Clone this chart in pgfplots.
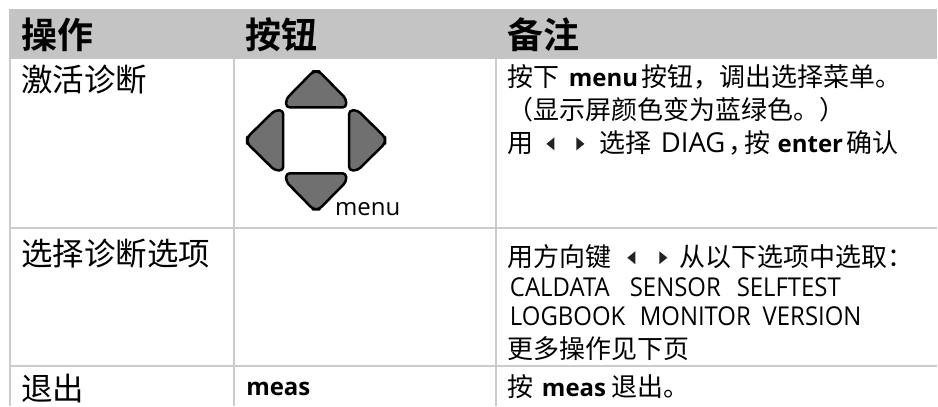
\documentclass[border=0pt]{standalone}
\usepackage{pgfplots}
\pgfplotsset{compat=1.18}
\usepackage{fontspec}
\setmainfont{Open Sans}
\newfontfamily\oc[FakeStretch=0.92]{Open Sans}
\newfontfamily\cjk[BoldFont={Noto Sans CJK SC Bold}]{Noto Sans CJK SC}
\definecolor{hd}{HTML}{C4C4C4}
\definecolor{rl}{HTML}{CBCBCB}
\definecolor{ar}{HTML}{707070}
\definecolor{tx}{HTML}{222222}
\newcommand{\at}[4]{\node[anchor=base west, font=#3] at (axis cs:#1,#2) {#4};}
\newcommand{\hh}{\fontsize{36}{36}\selectfont\cjk\bfseries}
\newcommand{\cc}{\fontsize{31.5}{31.5}\selectfont\cjk}
\newcommand{\bz}{\fontsize{26}{26}\selectfont\cjk}
\newcommand{\bl}{\fontsize{24}{24}\selectfont\bfseries}
\newcommand{\la}{\fontsize{26}{26}\selectfont\oc}
\begin{document}
\begin{tikzpicture}
\begin{axis}[
  scale only axis, width=938pt, height=406pt,
  xmin=0, xmax=938, ymin=0, ymax=406, y dir=reverse,
  hide axis, clip=false,
  every node/.append style={text=tx, inner sep=0pt, outer sep=0pt},
  key/.style={fill=ar, draw=black, line width=2.5pt, rounded corners=3.5pt, line join=round},
  tri/.style={fill=tx, draw=none},
]
% header band
\addplot[fill=hd, draw=none] coordinates {(9,9) (938,9) (938,59) (9,59)} --cycle;
% rules
\addplot[rl, line width=2pt] coordinates {(10,59) (10,406)};
\addplot[rl, line width=2pt] coordinates {(234,59) (234,406)};
\addplot[rl, line width=2pt] coordinates {(497,59) (497,406)};
\addplot[rl, line width=2pt] coordinates {(10,228) (938,228)};
\addplot[rl, line width=2pt] coordinates {(10,366) (938,366)};
% arrow keys
\addplot[key] coordinates {(316.5,71.5) (319.5,71.5) (346.5,99) (346.5,107.5) (286.5,107.5) (286.5,99) (313.5,71.5)} --cycle;
\addplot[key] coordinates {(316.5,209.5) (319.5,209.5) (346.5,182) (346.5,173.5) (286.5,173.5) (286.5,182) (313.5,209.5)} --cycle;
\addplot[key] coordinates {(247.5,140.5) (247.5,143.5) (275,170.5) (283.5,170.5) (283.5,110.5) (275,110.5) (247.5,137.5)} --cycle;
\addplot[key] coordinates {(385.5,140.5) (385.5,143.5) (358,170.5) (349.5,170.5) (349.5,110.5) (358,110.5) (385.5,137.5)} --cycle;
% small triangles
\addplot[tri] coordinates {(547,144) (555,137.5) (555,150.5)} --cycle;
\addplot[tri] coordinates {(585,144) (577,137.5) (577,150.5)} --cycle;
\addplot[tri] coordinates {(628,258) (636,251.5) (636,264.5)} --cycle;
\addplot[tri] coordinates {(668,258) (660,251.5) (660,264.5)} --cycle;
% header text
\at{18}{49}{\hh}{操作}
\at{242}{49}{\hh}{按钮}
\at{505}{49}{\hh}{备注}
% col 1
\at{18}{92}{\cc}{激活诊断}
\at{18}{266}{\cc}{选择诊断选项}
\at{18}{401}{\cc}{退出}
% col 2
\at{332}{216}{\fontsize{24}{24}\selectfont}{menu}
\at{243}{396}{\bl}{meas}
% col 3
\at{505}{87}{\bz}{按下}
\at{566}{87}{\bl}{menu}
\at{639}{87}{\bz}{按钮，调出选择菜单。}
\at{505}{120}{\bz}{（显示屏颜色变为蓝绿色。）}
\at{505}{153}{\bz}{用}
\at{597}{153}{\bz}{选择}
\at{658}{153}{\fontsize{27.5}{27.5}\selectfont}{DIAG}
\at{726}{153}{\bz}{，}
\at{742}{153}{\bz}{按}
\at{775}{153}{\bl}{enter}
\at{844}{153}{\bz}{确认}
\at{505}{267}{\bz}{用方向键}
\at{677}{267}{\bz}{从以下选项中选取：}
\at{507}{297}{\la}{CALDATA}
\at{627}{297}{\la}{SENSOR}
\at{734}{297}{\la}{SELFTEST}
\at{507}{326}{\la}{LOGBOOK}
\at{637}{326}{\la}{MONITOR}
\at{760}{326}{\la}{VERSION}
\at{505}{359}{\bz}{更多操作见下页}
\at{505}{397}{\bz}{按}
\at{539}{397}{\bl}{meas}
\at{609}{397}{\bz}{退出。}
\end{axis}
\path[use as bounding box] (0,0) rectangle (938pt,406pt);
\end{tikzpicture}
\end{document}
